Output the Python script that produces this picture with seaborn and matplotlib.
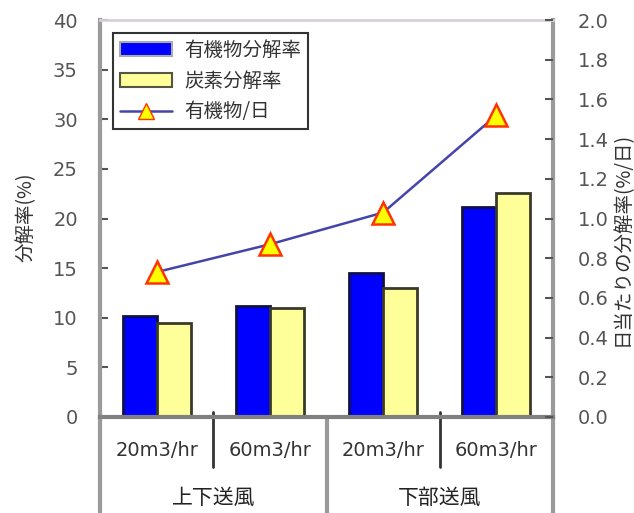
import numpy as np
import pandas as pd
import matplotlib
matplotlib.use("Agg")
import matplotlib.pyplot as plt
from matplotlib.lines import Line2D
from matplotlib.patches import Patch
import seaborn as sns

# Data
flows = ["20m3/hr", "60m3/hr", "20m3/hr", "60m3/hr"]
groups = ["上下送風", "下部送風"]
organic_rate = [10.2, 11.2, 14.5, 21.2]     # 有機物分解率 (%)
carbon_rate = [9.5, 11.0, 13.0, 22.6]       # 炭素分解率 (%)
organic_daily = [0.73, 0.87, 1.03, 1.52]    # 有機物/日 (%/日)
series_names = ["有機物分解率", "炭素分解率"]
left_ticks = [0, 5, 10, 15, 20, 25, 30, 35, 40]
right_ticks = [0.0, 0.2, 0.4, 0.6, 0.8, 1.0, 1.2, 1.4, 1.6, 1.8, 2.0]

sns.set_theme(style="white")
plt.rcParams["font.family"] = ["Noto Sans CJK JP", "DejaVu Sans"]
num_font = ["DejaVu Sans"]

W, H = 634, 513
fig = plt.figure(figsize=(W / 100, H / 100), dpi=100)
x0, x1, yb, yt = 100, 553, 417, 20
ax = fig.add_axes([x0 / W, 1 - yb / H, (x1 - x0) / W, (yb - yt) / H])

pos = [f"c{i}" for i in range(len(flows))]
df = pd.DataFrame({
    "pos": pos * 2,
    "value": organic_rate + carbon_rate,
    "series": [series_names[0]] * 4 + [series_names[1]] * 4,
})
blue, yellow = "#0000FF", "#FFFF99"
sns.barplot(data=df, x="pos", y="value", hue="series", order=pos,
            hue_order=series_names, palette=[blue, yellow],
            width=0.6, gap=0, ax=ax, legend=False, saturation=1)
edge_cols = ["#10104a", "#3a3a2a"]
for i, cont in enumerate(ax.containers):
    for p in cont.patches:
        p.set_edgecolor(edge_cols[i])
        p.set_linewidth(2.0)

axis_gray = "#9a9a9a"
tick_col = "#555555"
ax.set_ylim(0, 40)
ax.set_xlim(-0.5, 3.5)
ax.set_yticks(left_ticks)
ax.set_yticklabels([str(v) for v in left_ticks], color=tick_col, fontsize=14,
                   family=num_font)
ax.set_xticks([])
ax.set_xlabel("")
ax.set_ylabel("")
ax.tick_params(axis="y", direction="in", length=6, width=1.5, color="#555555", pad=16)
for side in ["left", "right", "bottom", "top"]:
    ax.spines[side].set_color(axis_gray)
    ax.spines[side].set_linewidth(3)
ax.spines["top"].set_color("#d8d0d8")
ax.spines["top"].set_linewidth(2)
ax.spines["bottom"].set_color("#808080")

ax2 = ax.twinx()
sns.lineplot(x=np.arange(len(organic_daily)), y=organic_daily, ax=ax2,
             color="#4444aa", linewidth=1.8, marker="^", markersize=16,
             markerfacecolor="#FFFF00", markeredgecolor="#FF3300",
             markeredgewidth=1.8)
ax2.set_ylim(0, 2.0)
ax2.set_xlim(-0.5, 3.5)
ax2.set_yticks(right_ticks)
ax2.set_yticklabels([f"{v:.1f}" for v in right_ticks], color=tick_col, fontsize=14,
                    family=num_font)
ax2.set_ylabel("")
ax2.tick_params(axis="y", direction="in", length=6, width=1.5, color="#555555", pad=18)
for s in ax2.spines.values():
    s.set_visible(False)

# Axis titles
fig.text(26 / W, 1 - 217 / H, "分解率(%)", rotation=90, ha="center", va="center",
         fontsize=14, color="#333333")
fig.text(622 / W, 1 - 239 / H, "日当たりの分解率(%/日)", rotation=90, ha="center",
         va="center", fontsize=14, color="#333333")

# Category labels and separators below the axis
trans = ax.get_xaxis_transform()
for i, lab in enumerate(flows):
    ax.text(i, -0.085, lab, transform=trans, ha="center", va="center",
            fontsize=14, color="#333333", family=num_font)
for i, g in enumerate(groups):
    ax.text(2 * i + 0.5, -0.205, g, transform=trans, ha="center", va="center",
            fontsize=15, color="#222222")
for xs in [-0.5, 1.5, 3.5]:
    ax.add_line(Line2D([xs, xs], [0, -0.245], transform=trans, color=axis_gray,
                       linewidth=3, clip_on=False))
for xs in [0.5, 2.5]:
    ax.add_line(Line2D([xs, xs], [0.012, -0.126], transform=trans, color="#333333",
                       linewidth=2, clip_on=False))

# Legend
handles = [
    Patch(facecolor=blue, edgecolor="#aaaaaa", linewidth=1.5),
    Patch(facecolor=yellow, edgecolor="#555544", linewidth=1.5),
    Line2D([0], [0], color="#4444aa", linewidth=1.8, marker="^", markersize=12,
           markerfacecolor="#FFFF00", markeredgecolor="#FF3300"),
]
leg = ax2.legend(handles, ["有機物分解率", "炭素分解率", "有機物/日"],
                 loc="upper left", bbox_to_anchor=(0.029, 0.967), fontsize=14,
                 frameon=True, fancybox=False, handlelength=2.7, handleheight=0.7,
                 borderpad=0.35, labelspacing=0.5, handletextpad=0.6,
                 borderaxespad=0, framealpha=1)
leg.get_frame().set_edgecolor("#333333")
leg.get_frame().set_linewidth(1.5)
for t in leg.get_texts():
    t.set_color("#333333")

fig.savefig("out.png", dpi=100, facecolor="white")
